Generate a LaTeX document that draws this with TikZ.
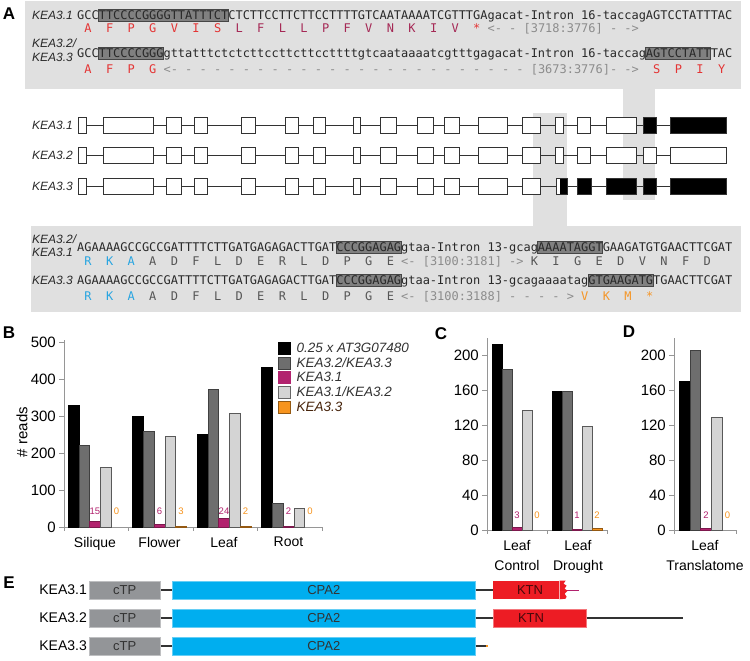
\documentclass[tikz,border=0pt]{standalone}
\usepackage{fontspec}
\setmainfont{Liberation Sans}
\newfontfamily\seqfont{DejaVu Sans Mono}
\usepackage{xcolor}
\usepackage{tikz}
\usetikzlibrary{positioning}
\definecolor{boxgray}{RGB}{224,224,224}
\definecolor{hlgray}{RGB}{128,128,128}
\definecolor{hldark}{RGB}{70,70,70}
\definecolor{seqdark}{RGB}{40,40,40}
\definecolor{aared}{RGB}{228,52,52}
\definecolor{aacrim}{RGB}{165,40,85}
\definecolor{aablue}{RGB}{40,165,225}
\definecolor{aagray}{RGB}{85,85,85}
\definecolor{anngray}{RGB}{140,140,140}
\definecolor{aaorange}{RGB}{245,150,40}
\definecolor{exonline}{RGB}{50,50,50}
\definecolor{axisgray}{RGB}{150,150,150}
\definecolor{bardark}{RGB}{110,110,110}
\definecolor{barlight}{RGB}{212,212,212}
\definecolor{barmag}{RGB}{178,34,110}
\definecolor{barorange}{RGB}{247,148,30}
\definecolor{ctpgray}{RGB}{147,149,152}
\definecolor{cpacyan}{RGB}{0,174,239}
\definecolor{ktnred}{RGB}{237,28,36}
\definecolor{legbrown}{RGB}{70,35,10}
\tikzset{
  seqtext/.style={font=\seqfont\fontsize{11.96}{14}\selectfont\frenchspacing, text=seqdark, inner sep=0pt, anchor=base west},
  isolab/.style={font=\itshape\fontsize{12}{12}\selectfont, text=seqdark, inner sep=0pt, anchor=base west},
  panellab/.style={font=\bfseries\fontsize{17}{17}\selectfont, inner sep=0pt},
  hlbox/.style={fill=hlgray, draw=hldark, line width=0.8pt},
  exon/.style={draw=exonline, fill=white, line width=1pt, inner sep=0pt, minimum height=16pt},
  darkexon/.style={exon, fill=black},
  splitexon/.style={exon, path picture={\fill[black] ([xshift=4pt]path picture bounding box.south west) rectangle (path picture bounding box.north east);}},
  intron/.style={exonline, line width=1pt},
  axis/.style={axisgray, line width=1pt},
  ticklab/.style={font=\fontsize{15}{15}\selectfont, anchor=east, inner sep=0pt},
  catlab/.style={font=\fontsize{14}{20}\selectfont, align=center, inner sep=0pt, anchor=north},
  vallab/.style={font=\fontsize{9.5}{10}\selectfont, inner sep=0pt},
  kbar/.style={fill=black, draw=black, line width=0.6pt},
  dbar/.style={fill=bardark, draw=black!75, line width=0.6pt},
  mbar/.style={fill=barmag, draw=barmag!70!black, line width=0.6pt},
  lbar/.style={fill=barlight, draw=black!65, line width=0.6pt},
  obar/.style={fill=barorange, draw=barorange!60!black, line width=0.6pt},
  swatch/.style={minimum size=12pt, inner sep=0pt, line width=0.6pt},
  legtext/.style={font=\itshape\fontsize{13.5}{14}\selectfont, text=black!80, inner sep=0pt},
  dombox/.style={minimum height=18pt, inner sep=0pt, anchor=west, line width=0.6pt},
  domtext/.style={font=\fontsize{13}{13}\selectfont, text=black!80, inner sep=0pt},
  ctp/.style={dombox, fill=ctpgray, draw=ctpgray!60!white, minimum width=71pt},
  cpa/.style={dombox, fill=cpacyan, draw=cpacyan!60!white, minimum width=303pt},
  ktn/.style={dombox, fill=ktnred, draw=ktnred!60!white},
  protline/.style={black!80, line width=1.2pt},
  protlab/.style={font=\fontsize{14}{14}\selectfont, anchor=east, inner sep=0pt}
}
\newcommand{\hlseq}[3]{\filldraw[hlbox] ({77+#1*7.2},{#3-10.5}) rectangle ({77+#2*7.2},{#3+1.5});}

\begin{document}
\begin{tikzpicture}[x=1pt, y=-1pt]
  \fill[white] (0,0) rectangle (750,661);
  \useasboundingbox (0,0) rectangle (750,661);

  % Panel A: grey boxes and bands
  \fill[boxgray] (25,1) rectangle (741,89);
  \fill[boxgray] (623,89) rectangle (655,200);
  \fill[boxgray] (533,113) rectangle (567,226);
  \fill[boxgray] (31,226) rectangle (741,312);
  \node[panellab] (pA) at (9,14) {A};

  % Top sequences
  \hlseq{3}{21}{19.5}
  \hlseq{3}{12}{58}
  \hlseq{79}{88}{58}
  \node[isolab] (tl1) at (32,19.5) {KEA3.1};
  \node[seqtext] (topseq1) at (77,19.5) {GCCTTCCCCGGGGTTATTTCTCTCTTCCTTCTTCCTTTTGTCAATAAAATCGTTTGAgacat-Intron~16-taccagAGTCCTATTTAC};
  \node[seqtext] (topaa1) at (77,32.5) {~\textcolor{aared}{A~~F~~P~~G~~V~~I~~S}~~\textcolor{aacrim}{L~~F~~L~~L~~P~~F~~V~~N~~K~~I~~V}~~\textcolor{aared}{*}~\textcolor{anngray}{<-~-~[3718:3776]~-~->}};
  \node[isolab] (tl2) at (32,48) {KEA3.2/};
  \node[isolab] (tl3) at (32,62) {KEA3.3};
  \node[seqtext] (topseq2) at (77,58) {GCCTTCCCCGGGgttatttctctcttccttcttccttttgtcaataaaatcgtttgagacat-Intron~16-taccagAGTCCTATTTAC};
  \node[seqtext] (topaa2) at (77,73.5) {~\textcolor{aared}{A~~F~~P~~G}~\textcolor{anngray}{<-~-~-~-~-~-~-~-~-~-~-~-~-~-~-~-~-~-~-~-~-~-~-~-~-~[3673:3776]-~->}~~\textcolor{aared}{S~~P~~I~~Y}};

  % Gene models
  \foreach \row/\yy in {1/125, 2/155, 3/186} {
    \node[isolab, anchor=east] (gl\row) at (73,\yy) {KEA3.\row};
    \foreach \a/\b [count=\i] in {78/86, 103/153, 166/181, 194/207, 241/255, 285/298, 313/325, 353/360, 380/396, 417/433, 444/459, 478/507, 522/540}
      \node[exon, minimum width={(\b-\a)*1pt}] (e\row-\i) at ({(\a+\b)/2},\yy) {};
  }
  \foreach \a/\b/\s [count=\i from 14] in {555/563/exon, 577/590/exon, 606/636/exon, 643/656/darkexon, 670/726/darkexon}
    \node[\s, minimum width={(\b-\a)*1pt}] (e1-\i) at ({(\a+\b)/2},125) {};
  \foreach \a/\b/\s [count=\i from 14] in {555/563/exon, 577/590/exon, 606/636/exon, 643/656/exon, 670/726/exon}
    \node[\s, minimum width={(\b-\a)*1pt}] (e2-\i) at ({(\a+\b)/2},155) {};
  \foreach \a/\b/\s [count=\i from 14] in {556/567/splitexon, 577/591/darkexon, 606/636/darkexon, 643/656/darkexon, 670/726/darkexon}
    \node[\s, minimum width={(\b-\a)*1pt}] (e3-\i) at ({(\a+\b)/2},186) {};
  \foreach \row in {1,2,3}
    \foreach \i [remember=\i as \prev (initially 1)] in {2,...,18}
      \draw[intron] (e\row-\prev.east) -- (e\row-\i.west);

  % Bottom sequences
  \hlseq{36}{45}{251.5}
  \hlseq{64}{73}{251.5}
  \hlseq{36}{45}{284.5}
  \hlseq{71}{80}{284.5}
  \node[isolab] (bl1) at (32,243) {KEA3.2/};
  \node[isolab] (bl2) at (32,256) {KEA3.1};
  \node[seqtext] (botseq1) at (77,251.5) {AGAAAAGCCGCCGATTTTCTTGATGAGAGACTTGATCCCGGAGAGgtaa-Intron~13-gcagAAAATAGGTGAAGATGTGAACTTCGAT};
  \node[seqtext, text=aagray] (botaa1) at (77,265) {~\textcolor{aablue}{R~~K~~A}~~A~~D~~F~~L~~D~~E~~R~~L~~D~~P~~G~~E~\textcolor{anngray}{<-~[3100:3181]~->}~K~~I~~G~~E~~D~~V~~N~~F~~D};
  \node[isolab] (bl3) at (32,284.5) {KEA3.3};
  \node[seqtext] (botseq2) at (77,284.5) {AGAAAAGCCGCCGATTTTCTTGATGAGAGACTTGATCCCGGAGAGgtaa-Intron~13-gcagaaaatagGTGAAGATGTGAACTTCGAT};
  \node[seqtext, text=aagray] (botaa2) at (77,300) {~\textcolor{aablue}{R~~K~~A}~~A~~D~~F~~L~~D~~E~~R~~L~~D~~P~~G~~E~\textcolor{anngray}{<-~[3100:3188]~-~-~-~-~>}~\textcolor{aaorange}{V~~K~~M~~*}};

  % Panels B, C, D: axes
  \node[panellab] (pB) at (9,333) {B};
  \node[panellab] (pC) at (441,334) {C};
  \node[panellab] (pD) at (629,332) {D};
  \draw[axis] (64,340) -- (64,527) -- (322,527);
  \foreach \v in {0,100,...,500} {
    \draw[axis] (59,{527-0.37*\v}) -- (64,{527-0.37*\v});
    \node[ticklab] (tb\v) at (56,{527-0.37*\v}) {\v};
  }
  \foreach \x in {64,128.5,193,257.5,322} \draw[axis] (\x,527) -- (\x,531);
  \node[rotate=90, font=\fontsize{15}{15}\selectfont, inner sep=0pt] (ylab) at (22,432) {\# reads};
  \draw[axis] (487,338) -- (487,530) -- (607,530);
  \draw[axis] (674,338) -- (674,530) -- (736,530);
  \foreach \v in {0,40,...,200} {
    \draw[axis] (482,{530-0.875*\v}) -- (487,{530-0.875*\v});
    \node[ticklab] (tc\v) at (479,{530-0.875*\v}) {\v};
    \draw[axis] (669,{530-0.875*\v}) -- (674,{530-0.875*\v});
    \node[ticklab] (td\v) at (666,{530-0.875*\v}) {\v};
  }
  \foreach \x in {487,547,607,674,736} \draw[axis] (\x,530) -- (\x,534);

  % Bars
  \foreach \gx/\base/\sc/\bw/\ly/\vk/\vd/\vm/\vl/\vo [count=\g] in {
      68/527/0.37/10.8/511/330/222/15/162/0, 132.5/527/0.37/10.8/511/298/260/6/244/3,
      197/527/0.37/10.8/511/250/373/24/307/2, 261.5/527/0.37/10.8/511/432/63/2/50/0,
      492/530/0.875/10/515/212/184/3/137/0, 552/530/0.875/10/515/158/158/1/119/2,
      679/530/0.875/10.8/515/170/205/2/129/0} {
    \draw[kbar] (\gx,\base) rectangle ++(\bw,{-\sc*\vk});
    \draw[dbar] ({\gx+\bw},\base) rectangle ++(\bw,{-\sc*\vd});
    \draw[mbar] ({\gx+2*\bw},\base) rectangle ++(\bw,{-\sc*\vm});
    \draw[lbar] ({\gx+3*\bw},\base) rectangle ++(\bw,{-\sc*\vl});
    \pgfmathtruncatemacro\op{\vo>0}
    \ifnum\op=1 \draw[obar] ({\gx+4*\bw},\base) rectangle ++(\bw,{-\sc*\vo}); \fi
    \node[vallab, text=barmag] (mv\g) at ({\gx+2.5*\bw},\ly) {\vm};
    \node[vallab, text=barorange] (ov\g) at ({\gx+4.5*\bw},\ly) {\vo};
  }

  % Category labels
  \node[catlab] (cs) at (95,537) {Silique};
  \node[catlab] (cf) at (159.5,537) {Flower};
  \node[catlab] (cl) at (224,537) {Leaf};
  \node[catlab] (cr) at (288.5,537) {Root};
  \node[catlab] (cc) at (517,540) {Leaf\\Control};
  \node[catlab] (cd) at (578,540) {Leaf\\Drought};
  \node[catlab] (ct) at (705,540) {Leaf\\Translatome};

  % Legend
  \node[swatch, fill=black, draw=black] (lg1) at (284,348) {};
  \node[swatch, fill=bardark, draw=black!75] (lg2) at (284,363) {};
  \node[swatch, fill=barmag, draw=barmag] (lg3) at (284,377) {};
  \node[swatch, fill=barlight, draw=black!60] (lg4) at (284,392) {};
  \node[swatch, fill=barorange, draw=barorange!60!black] (lg5) at (284,407) {};
  \node[legtext, right=6pt of lg1] (lt1) {0.25 x AT3G07480};
  \node[legtext, right=6pt of lg2] (lt2) {KEA3.2/KEA3.3};
  \node[legtext, right=6pt of lg3] (lt3) {KEA3.1};
  \node[legtext, right=6pt of lg4] (lt4) {KEA3.1/KEA3.2};
  \node[legtext, text=legbrown, right=6pt of lg5] (lt5) {KEA3.3};

  % Panel E: protein domains
  \node[panellab] (pE) at (9,583) {E};
  \foreach \r/\yy in {1/590, 2/618, 3/646} {
    \node[protlab] (pl\r) at (87,\yy) {KEA3.\r};
    \node[ctp] (ctp\r) at (89,\yy) {};
    \node[domtext] (ctpl\r) at (ctp\r) {cTP};
    \node[cpa] (cpa\r) at (172,\yy) {};
    \node[domtext] (cpal\r) at (cpa\r) {CPA2};
    \draw[protline] (ctp\r.east) -- (cpa\r.west);
  }
  \node[ktn, draw=none, minimum width=66pt] (ktn1) at (493,590) {};
  \node[ktn, minimum width=93pt] (ktn2) at (493,618) {};
  \node[domtext, text=black!70!ktnred] (ktnl1) at (530,590) {KTN};
  \node[domtext, text=black!70!ktnred] (ktnl2) at (531,618) {KTN};
  \draw[protline] (cpa1.east) -- (ktn1.west);
  \draw[protline] (cpa2.east) -- (ktn2.west);
  \coordinate (tail1) at (579,590);
  \coordinate (tail2) at (683,618);
  \coordinate (tail3) at (486,646);
  \coordinate (tip3) at (488,646);
  \draw[barmag, line width=1pt] (ktn1.east) -- (tail1);
  \fill[ktnred] (ktn1.north east) -- ++(6,0) -- ++(-2,3) -- ++(3,2) -- ++(-2,3) -- ++(3,2) -- ++(-3,3) -- ++(2,3) -- ++(-1,2) -- (ktn1.south east) -- cycle;
  \draw[protline] (ktn2.east) -- (tail2);
  \draw[protline] (cpa3.east) -- (tail3);
  \draw[barorange, line width=1.2pt] (tail3) -- (tip3);
\end{tikzpicture}
\end{document}
